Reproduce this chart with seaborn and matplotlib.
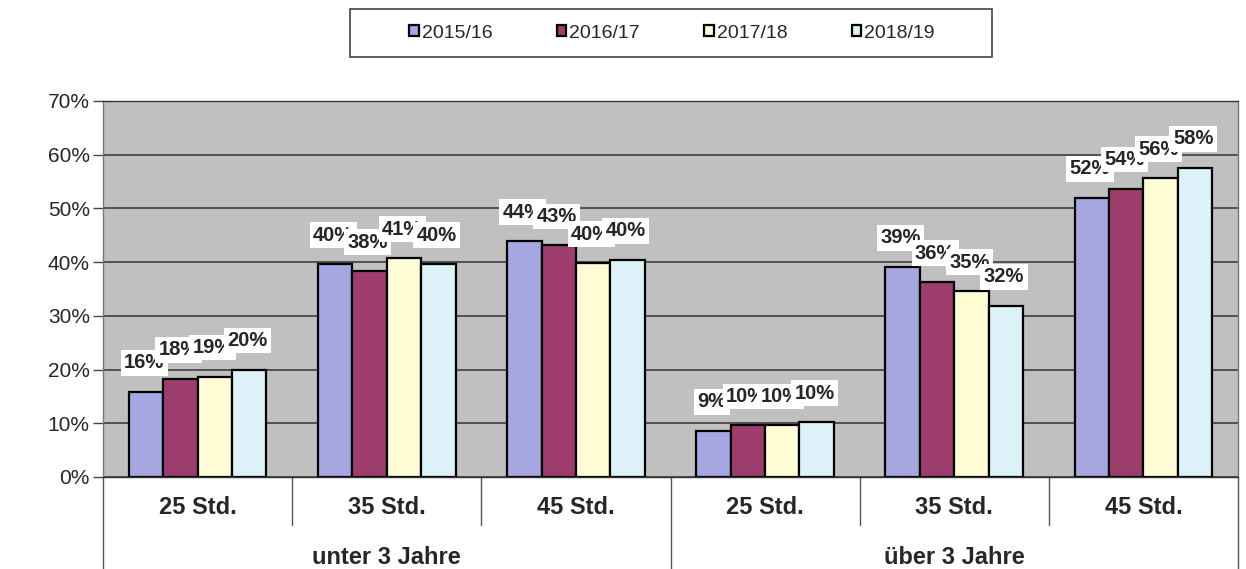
import pandas as pd
import matplotlib
matplotlib.use('Agg')
import matplotlib.pyplot as plt
from matplotlib.patches import Rectangle
import seaborn as sns

years = ['2015/16', '2016/17', '2017/18', '2018/19']
groups = ['unter 3 Jahre', 'über 3 Jahre']
hours = ['25 Std.', '35 Std.', '45 Std.']
colors = ['#A6A6E0', '#9C3D6E', '#FFFCD6', '#DDF2F8']

# share per year, order: unter 3 (25,35,45), über 3 (25,35,45)
v_1516 = [15.9, 39.6, 43.9, 8.6, 39.1, 52.0]
v_1617 = [18.3, 38.3, 43.1, 9.6, 36.3, 53.7]
v_1718 = [18.7, 40.7, 39.8, 9.6, 34.6, 55.6]
v_1819 = [20.0, 39.6, 40.4, 10.2, 31.9, 57.6]

cats = [g + '|' + h for g in groups for h in hours]
rows = []
for yr, vals in zip(years, [v_1516, v_1617, v_1718, v_1819]):
    for c, v in zip(cats, vals):
        rows.append({'cat': c, 'year': yr, 'val': v / 100})
df = pd.DataFrame(rows)

sns.set_style('white')
plt.rcParams['font.family'] = ['Liberation Sans', 'DejaVu Sans']

W, H = 1246, 569
fig = plt.figure(figsize=(W / 100, H / 100), dpi=100)
ax = fig.add_axes([103 / W, 92 / H, 1135 / W, 376 / H])
ax.set_facecolor('#C0C0C0')

sns.barplot(data=df, x='cat', y='val', hue='year', palette=colors, width=0.727,
            edgecolor='black', linewidth=1.6, ax=ax, saturation=1)

ax.set_ylim(0, 0.7)
ax.set_xlim(-0.5, 5.5)
ax.set_yticks([i / 10 for i in range(8)])
ax.set_yticklabels([f'{i * 10}%' for i in range(8)], fontsize=15)
ax.yaxis.grid(True, color='#333333', linewidth=1.1)
ax.set_axisbelow(True)
ax.tick_params(axis='y', left=True, length=7, width=1, color='#444444', pad=2.5)
ax.set_xlabel('')
ax.set_ylabel('')
for s in ax.spines.values():
    s.set_color('#777777')
    s.set_linewidth(1)
ax.spines['top'].set_color('#333333')
ax.spines['bottom'].set_color('#333333')

# value labels (white boxes, overlapping like the original)
for cont in ax.containers:
    for bar in cont:
        h = bar.get_height()
        ax.text(bar.get_x() + bar.get_width() / 2 - 0.01, h + 0.054, f'{round(h * 100):.0f}%',
                ha='center', va='center', fontsize=14.5, fontweight='bold',
                bbox=dict(facecolor='white', edgecolor='none', pad=2.5))

# two-level x axis
ax.set_xticks([])
tr = ax.get_xaxis_transform()
for i, c in enumerate(cats):
    ax.text(i, -0.082, c.split('|')[1], transform=tr, ha='center', va='center',
            fontsize=17, fontweight='bold')
for k, g in enumerate(groups):
    ax.text(1 + 3 * k, -0.215, g, transform=tr, ha='center', va='center',
            fontsize=17, fontweight='bold')
for xb in [0.5, 1.5, 3.5, 4.5]:
    ax.plot([xb, xb], [0, -0.128], transform=tr, color='#555555', lw=1, clip_on=False)
for xb in [-0.5, 2.5, 5.5]:
    ax.plot([xb, xb], [0, -0.26], transform=tr, color='#555555', lw=1, clip_on=False)

# legend in a box at the top
handles, labels = ax.get_legend_handles_labels()
ax.get_legend().remove()
fig.patches.append(Rectangle((350 / W, 1 - 57 / H), 642 / W, 48 / H, transform=fig.transFigure,
                             facecolor='white', edgecolor='#444444', linewidth=1.2))
fig.legend(handles, labels, loc='center', ncol=4, bbox_to_anchor=(672 / W, 1 - 33 / H),
           fontsize=14, frameon=False, handlelength=0.5, handleheight=0.5,
           handletextpad=0.15, columnspacing=3.3)

fig.savefig('out.png', dpi=100, facecolor='white')
